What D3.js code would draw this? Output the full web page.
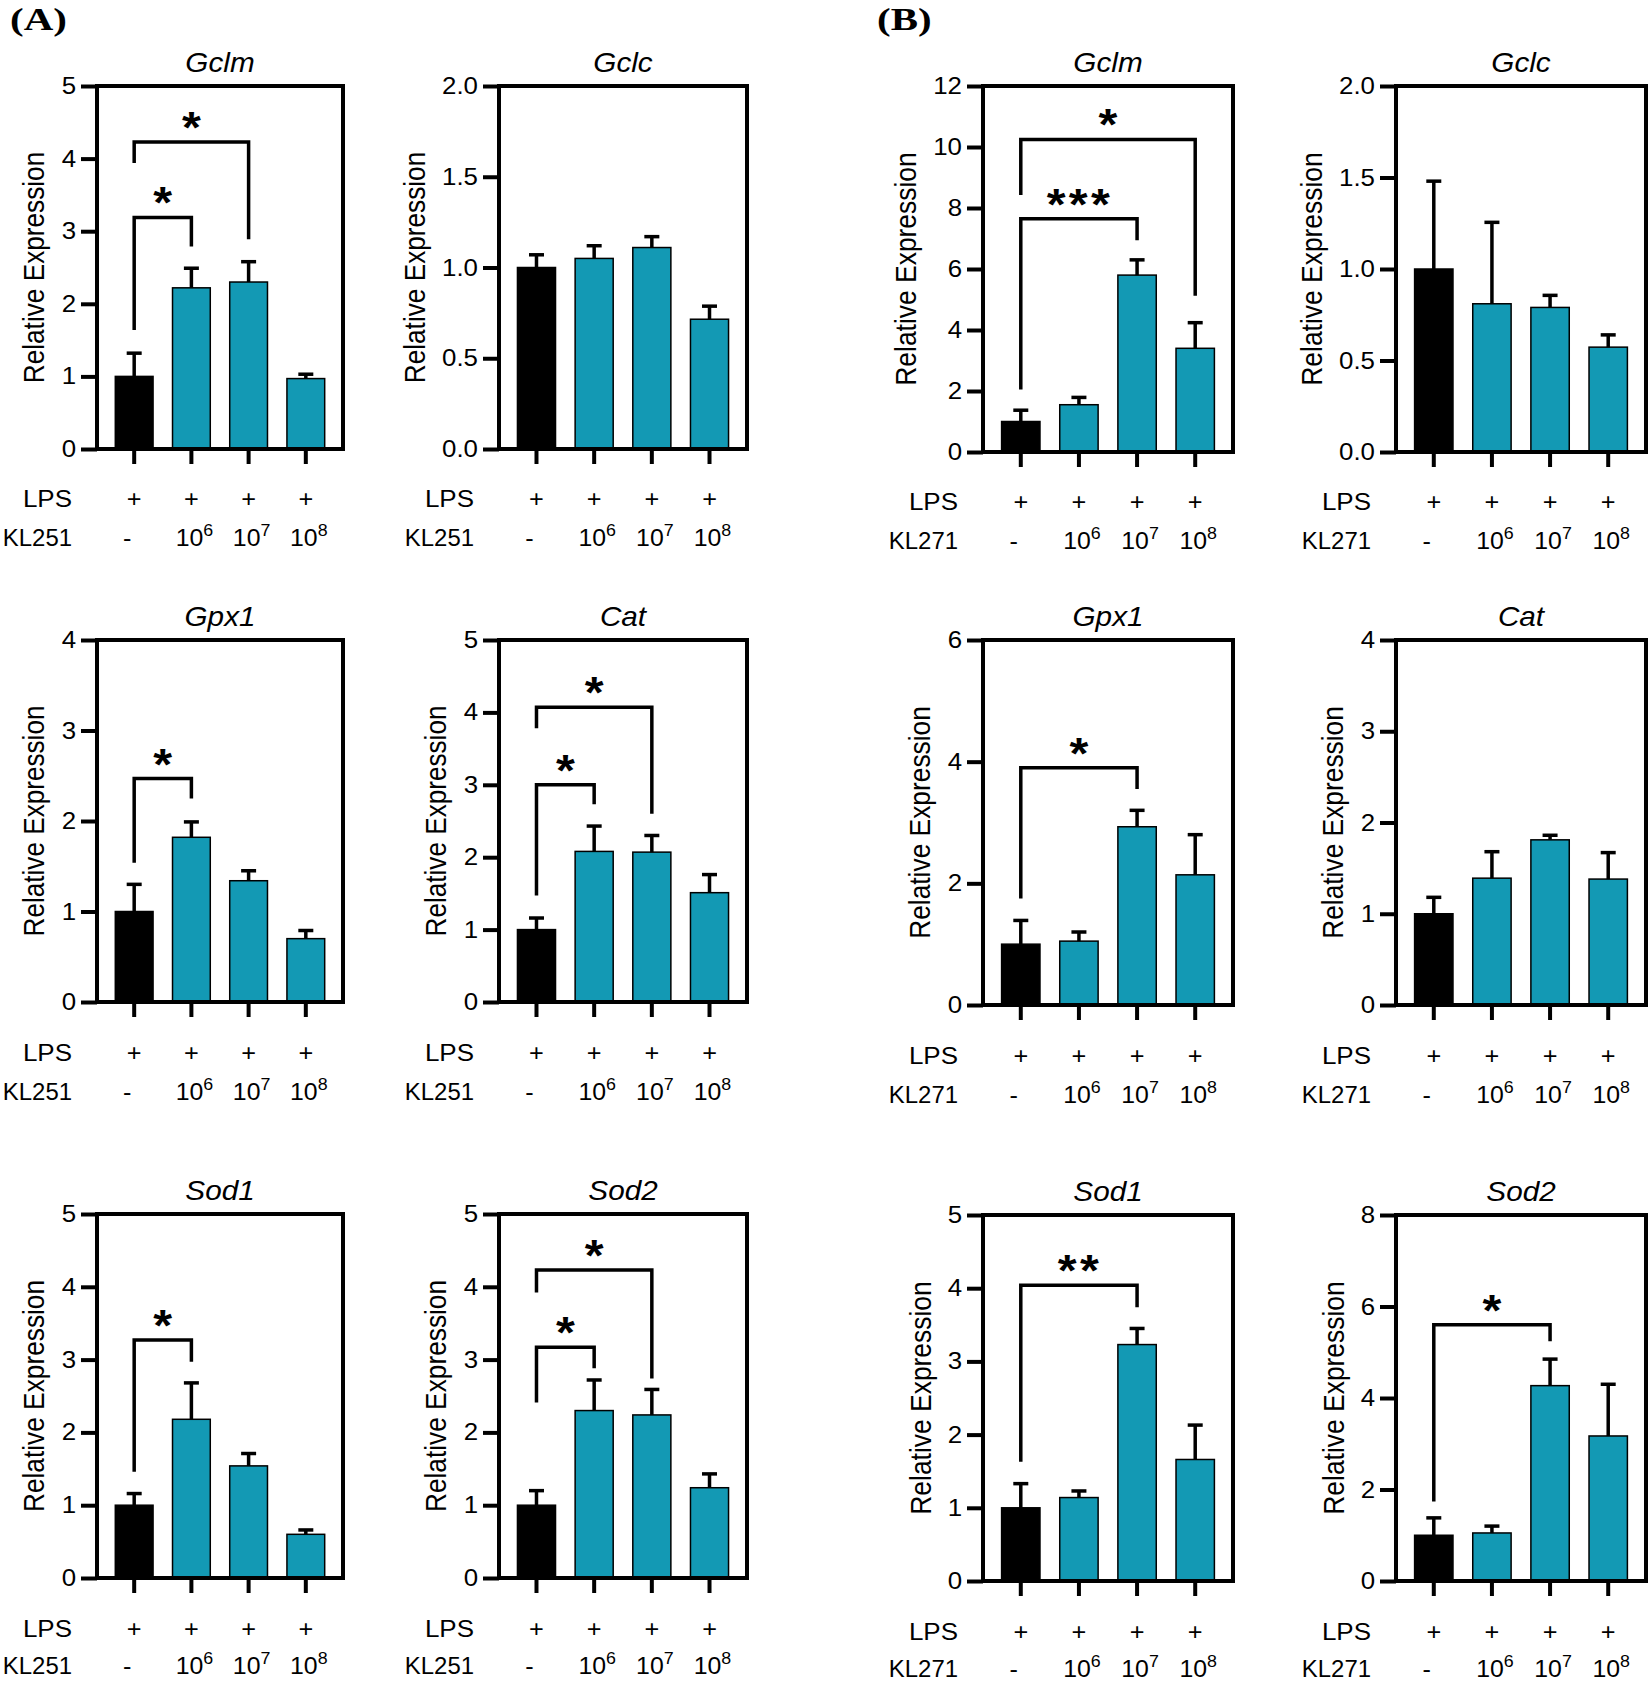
<!DOCTYPE html>
<html><head><meta charset="utf-8">
<script src="https://cdn.jsdelivr.net/npm/d3@7"></script>
<style>body{margin:0;background:#fff} svg{display:block}</style>
</head><body><svg id="c" width="1648" height="1683"></svg>
<script>
// ---------------- DATA ----------------
const genes = ['Gclm', 'Gclc', 'Gpx1', 'Cat', 'Sod1', 'Sod2'];
const groups = ['ctrl', 'd6', 'd7', 'd8'];
const lpsLabels = ['+', '+', '+', '+'];
const doseExponents = [null, '6', '7', '8'];
const strains = ['KL251', 'KL271'];
const panelLetters = ['(A)', '(B)'];

// KL251 (panel A) — means and SEM, ordered as genes
const kl251Means = [
  [1.00, 2.22, 2.30, 0.97],
  [1.00, 1.05, 1.11, 0.715],
  [1.00, 1.82, 1.34, 0.70],
  [1.00, 2.08, 2.07, 1.51],
  [1.00, 2.18, 1.54, 0.60],
  [1.00, 2.30, 2.24, 1.24]
];
const kl251Errors = [
  [0.32, 0.27, 0.28, 0.06],
  [0.07, 0.07, 0.06, 0.072],
  [0.30, 0.17, 0.11, 0.09],
  [0.16, 0.35, 0.23, 0.25],
  [0.16, 0.50, 0.17, 0.06],
  [0.20, 0.42, 0.35, 0.19]
];
// [gene, fromGroup, toGroup, bracketLevel, leftEnd, rightEnd, label]
const kl251Brackets = [
  [0, 0, 1, 3.19, 1.64, 2.79, '*'],
  [0, 0, 2, 4.23, 3.94, 2.89, '*'],
  [2, 0, 1, 2.47, 1.54, 2.25, '*'],
  [3, 0, 1, 3.00, 1.47, 2.73, '*'],
  [3, 0, 2, 4.07, 3.78, 2.60, '*'],
  [4, 0, 1, 3.27, 1.46, 2.97, '*'],
  [5, 0, 1, 3.17, 2.41, 2.88, '*'],
  [5, 0, 2, 4.23, 3.92, 2.74, '*']
];
const kl251YMax = [5, 2, 4, 5, 5, 5];
const kl251YStep = [1, 0.5, 1, 1, 1, 1];

// KL271 (panel B)
const kl271Means = [
  [1.00, 1.55, 5.80, 3.40],
  [1.00, 0.81, 0.79, 0.573],
  [1.00, 1.05, 2.93, 2.14],
  [1.00, 1.39, 1.81, 1.38],
  [1.00, 1.14, 3.23, 1.66],
  [1.00, 1.05, 4.27, 3.17]
];
const kl271Errors = [
  [0.37, 0.24, 0.50, 0.84],
  [0.48, 0.445, 0.066, 0.067],
  [0.39, 0.15, 0.27, 0.66],
  [0.18, 0.29, 0.05, 0.29],
  [0.33, 0.09, 0.22, 0.47],
  [0.38, 0.15, 0.58, 1.13]
];
const kl271Brackets = [
  [0, 0, 2, 7.65, 2.05, 6.94, '***'],
  [0, 0, 3, 10.25, 8.43, 5.12, '*'],
  [2, 0, 2, 3.90, 1.75, 3.55, '*'],
  [4, 0, 2, 4.04, 1.63, 3.74, '**'],
  [5, 0, 2, 5.60, 1.74, 5.24, '*']
];
const kl271YMax = [12, 2, 6, 4, 5, 8];
const kl271YStep = [2, 0.5, 2, 1, 1, 2];

// ---------------- LAYOUT ----------------
const colX = [[97, 343], [499, 747], [983, 1233], [1396, 1646]];
const rowY = [
  [[86, 449], [640, 1002], [1214, 1578]],
  [[86, 452], [640, 1005], [1215, 1581]]
];
const rowLabelOffsets = [[58, 97], [59, 98], [59, 96]];
const letterX = [10, 877];
const SX = 1.1;          // horizontal stretch of text
const TEAL = '#1399b4';
const FONT = '"Liberation Sans", Arial, Helvetica, sans-serif';

const svg = d3.select('#c');

function addText(g, x, y, str, o = {}) {
  const sx = o.sx || SX;
  const t = g.append('text')
    .attr('transform', `translate(${x},${y}) scale(${sx},1)` + (o.rotate ? ` rotate(${o.rotate})` : ''))
    .attr('text-anchor', o.anchor || 'middle')
    .style('font-family', o.family || FONT)
    .style('font-size', (o.size || 23) + 'px')
    .style('font-weight', o.weight || 'normal')
    .style('font-style', o.style || 'normal')
    .style('fill', '#000');
  if (o.spacing) t.style('letter-spacing', o.spacing + 'px');
  if (str !== null) t.text(str);
  return t;
}

function drawPanel(s, gi) {
  const means = s === 0 ? kl251Means[gi] : kl271Means[gi];
  const errs = s === 0 ? kl251Errors[gi] : kl271Errors[gi];
  const ymax = s === 0 ? kl251YMax[gi] : kl271YMax[gi];
  const ystep = s === 0 ? kl251YStep[gi] : kl271YStep[gi];
  const brackets = (s === 0 ? kl251Brackets : kl271Brackets).filter(b => b[0] === gi);
  const col = s * 2 + (gi % 2), row = Math.floor(gi / 2);
  const [left, right] = colX[col];
  const [top, bottom] = rowY[s][row];
  const g = svg.append('g');

  const x = d3.scaleBand().domain(groups).range([left, right]).paddingInner(0.34).paddingOuter(0.32);
  const y = d3.scaleLinear().domain([0, ymax]).range([bottom, top]);
  const cx = d => x(d) + x.bandwidth() / 2;

  // bars
  g.selectAll('rect.bar').data(groups).join('rect')
    .attr('x', d => x(d)).attr('width', x.bandwidth())
    .attr('y', (d, i) => y(means[i])).attr('height', (d, i) => y(0) - y(means[i]))
    .attr('fill', (d, i) => i === 0 ? '#000' : TEAL)
    .attr('stroke', '#000').attr('stroke-width', 1.5);

  // error bars
  const eg = g.append('g').attr('stroke', '#000').attr('stroke-width', 3.5);
  groups.forEach((d, i) => {
    eg.append('line').attr('x1', cx(d)).attr('x2', cx(d)).attr('y1', y(means[i])).attr('y2', y(means[i] + errs[i]));
    eg.append('line').attr('x1', cx(d) - 7.5).attr('x2', cx(d) + 7.5).attr('y1', y(means[i] + errs[i])).attr('y2', y(means[i] + errs[i]));
  });

  // frame
  g.append('rect').attr('x', left).attr('y', top).attr('width', right - left).attr('height', bottom - top)
    .attr('fill', 'none').attr('stroke', '#000').attr('stroke-width', 4);

  // y axis
  const ticks = d3.range(0, ymax + ystep / 2, ystep);
  const ya = g.append('g').attr('transform', `translate(${left},0)`)
    .call(d3.axisLeft(y).tickValues(ticks).tickSize(16).tickPadding(5)
      .tickFormat(ystep < 1 ? d3.format('.1f') : d3.format('d')));
  ya.select('.domain').remove();
  ya.selectAll('.tick line').attr('stroke', '#000').attr('stroke-width', 4);
  ya.selectAll('.tick text').style('font-family', FONT).style('font-size', '23.5px').attr('fill', '#000')
    .each(function () {
      const t = d3.select(this); const tx = +t.attr('x');
      t.attr('x', 0).attr('transform', `translate(${tx},0) scale(${SX},1)`);
    });

  // x axis ticks
  const xa = g.append('g').attr('transform', `translate(0,${bottom})`)
    .call(d3.axisBottom(x).tickSize(15).tickFormat(() => ''));
  xa.select('.domain').remove();
  xa.selectAll('.tick line').attr('stroke', '#000').attr('stroke-width', 4);

  // brackets
  brackets.forEach(b => {
    const xl = cx(groups[b[1]]), xr = cx(groups[b[2]]);
    g.append('path')
      .attr('d', `M${xl},${y(b[4])}V${y(b[3])}H${xr}V${y(b[5])}`)
      .attr('fill', 'none').attr('stroke', '#000').attr('stroke-width', 3.5).attr('stroke-linejoin', 'miter');
    const fs = 44;
    const n = b[6].length;
    addText(g, (xl + xr) / 2 + (n > 1 ? 1 : 0), y(b[3]) - 24 + 0.57 * fs, b[6],
      { size: fs, weight: 'bold', spacing: n > 1 ? 3 : 0, sx: 1.1 });
  });

  // y title
  const bb = ya.node().getBBox();
  const leftmost = left + bb.x;
  const tfs = (bottom - top) * 0.0722;
  const tcx = leftmost - 28;
  addText(g, tcx + 0.716 * tfs * 1.15 / 2, (top + bottom) / 2, 'Relative Expression',
    { size: tfs, rotate: -90, sx: 1.15 });

  // gene title
  addText(g, (left + right) / 2, top - 14.5, genes[gi], { size: 27, style: 'italic' });

  // category labels
  const [o1, o2] = rowLabelOffsets[row];
  addText(g, left - 25, bottom + o1, 'LPS', { size: 23, anchor: 'end', sx: 1.13 });
  addText(g, left - 25, bottom + o2, strains[s], { size: 23, anchor: 'end', sx: 1.04 });
  groups.forEach((d, i) => {
    addText(g, cx(d), bottom + o1, lpsLabels[i], { size: 23 });
    if (doseExponents[i] === null) {
      addText(g, cx(d) - 7, bottom + o2, '-', { size: 23 });
    } else {
      const t = addText(g, cx(d) + 3, bottom + o2, null, { size: 23, sx: 1.08 });
      t.append('tspan').text('10');
      t.append('tspan').attr('dy', -10).style('font-size', '16.5px').text(doseExponents[i]);
    }
  });
}

strains.forEach((st, s) => {
  addText(svg, letterX[s], 30, panelLetters[s],
    { size: 32, weight: 'bold', anchor: 'start', family: '"Liberation Serif", "Times New Roman", serif', sx: 1.28 });
  genes.forEach((gn, gi) => drawPanel(s, gi));
});
</script></body></html>
